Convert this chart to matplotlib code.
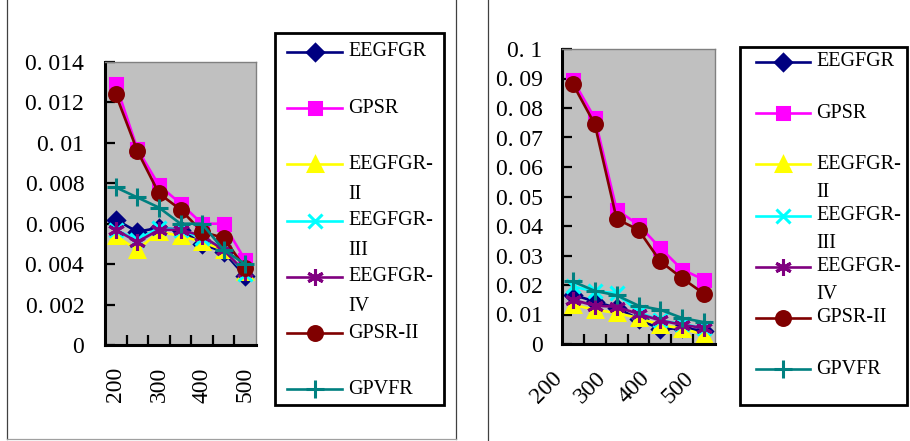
import matplotlib
matplotlib.use("Agg")
import matplotlib.pyplot as plt
import matplotlib.transforms as mtrans
from matplotlib.lines import Line2D
import numpy as np

plt.rcParams['font.family'] = ['Liberation Serif', 'DejaVu Serif']

# categories (x axis) - every other one is labelled
sizes = ['200', '250', '300', '350', '400', '450', '500']

names = ['EEGFGR', 'GPSR', 'EEGFGR-\nII', 'EEGFGR-\nIII', 'EEGFGR-\nIV', 'GPSR-II', 'GPVFR']
colors = ['#000080', '#FF00FF', '#FFFF00', '#00FFFF', '#800080', '#800000', '#008080']
markers = ['D', 's', '^', 'x', (6, 2, 0), 'o', '+']
msizes = [8, 9, 10, 10, 12, 10, 13]

# left chart values
left_eegfgr = [0.0062, 0.0056, 0.0058, 0.0057, 0.0050, 0.0046, 0.0034]
left_gpsr = [0.0129, 0.0097, 0.0079, 0.0070, 0.0060, 0.0060, 0.0042]
left_eegfgr2 = [0.0054, 0.0047, 0.0056, 0.0054, 0.0051, 0.0047, 0.0036]
left_eegfgr3 = [0.0057, 0.0052, 0.0058, 0.0057, 0.0053, 0.0048, 0.0035]
left_eegfgr4 = [0.0057, 0.0051, 0.0057, 0.0057, 0.0054, 0.0047, 0.0036]
left_gpsr2 = [0.0124, 0.0096, 0.0075, 0.0067, 0.0056, 0.0053, 0.0038]
left_gpvfr = [0.0078, 0.0073, 0.0068, 0.0060, 0.0060, 0.0047, 0.0040]

# right chart values
right_eegfgr = [0.0167, 0.0144, 0.0122, 0.0085, 0.0050, 0.0054, 0.0045]
right_gpsr = [0.0895, 0.0765, 0.0455, 0.0404, 0.0325, 0.0252, 0.0218]
right_eegfgr2 = [0.0133, 0.0116, 0.0105, 0.0088, 0.0065, 0.0052, 0.0032]
right_eegfgr3 = [0.0195, 0.0178, 0.0173, 0.0108, 0.0080, 0.0068, 0.0054]
right_eegfgr4 = [0.0150, 0.0130, 0.0126, 0.0102, 0.0080, 0.0065, 0.0054]
right_gpsr2 = [0.0881, 0.0745, 0.0424, 0.0387, 0.0280, 0.0223, 0.0170]
right_gpvfr = [0.0212, 0.0180, 0.0165, 0.0130, 0.0116, 0.0088, 0.0074]

left_series = [left_eegfgr, left_gpsr, left_eegfgr2, left_eegfgr3, left_eegfgr4, left_gpsr2, left_gpvfr]
right_series = [right_eegfgr, right_gpsr, right_eegfgr2, right_eegfgr3, right_eegfgr4, right_gpsr2, right_gpvfr]

W, H = 910, 441
fig = plt.figure(figsize=(W / 100, H / 100), dpi=100)


def px(x, y):
    return x / W, 1 - y / H


def box(x0, y0, x1, y1):
    a = px(x0, y1)
    b = px(x1, y0)
    return [a[0], a[1], b[0] - a[0], b[1] - a[1]]


def draw_chart(rect, series, ymax, ystep, fmt, rot, ypad, xpad, xshift):
    ax = fig.add_axes(rect)
    ax.set_facecolor('#C0C0C0')
    x = np.arange(len(sizes))
    for vals, c, m, ms in zip(series, colors, markers, msizes):
        ax.plot(x, vals, color=c, lw=1.9, marker=m, ms=ms, mfc=c, mec=c, mew=2.2)
    ax.set_xlim(-0.5, len(sizes) - 0.5)
    ax.set_ylim(0, ymax)
    yt = np.arange(0, ymax + ystep / 2, ystep)
    ax.set_yticks(yt)
    ax.set_yticklabels([fmt(v) for v in yt])
    ax.set_xticks(np.arange(0.5, len(sizes) - 0.5, 1))
    ax.set_xticklabels([])
    ax.set_xticks(x[::2], minor=True)
    lab = ax.set_xticklabels(sizes[::2], minor=True, rotation=rot,
                             ha='center' if rot == 90 else 'right', va='top')
    ax.tick_params(axis='both', which='major', direction='in', length=7, width=1.6)
    ax.tick_params(axis='y', labelsize=17, pad=ypad)
    ax.tick_params(axis='x', which='minor', length=0, labelsize=17, pad=xpad)
    if xshift:
        off = mtrans.ScaledTranslation(xshift / 100, 0, fig.dpi_scale_trans)
        for t in lab:
            t.set_transform(t.get_transform() + off)
    for s in ['left', 'bottom']:
        ax.spines[s].set_linewidth(2.2)
        ax.spines[s].set_color('black')
    for s in ['top', 'right']:
        ax.spines[s].set_linewidth(1.0)
        ax.spines[s].set_color('#808080')
    return ax


def fmt_left(v):
    if v == 0:
        return '0'
    s = ('%.3f' % v).rstrip('0')
    return s.replace('.', '. ')


def fmt_right(v):
    if v == 0:
        return '0'
    s = ('%.2f' % v).rstrip('0')
    return s.replace('.', '. ')


draw_chart(box(105, 62, 256, 345), left_series, 0.014, 0.002, fmt_left, 90, 15, 16, 0)
draw_chart(box(562, 49, 715, 344), right_series, 0.1, 0.01, fmt_right, 45, 14, 17, -6)


def legend(x0, y0, x1, y1, first_y, step, line_x0, line_x1, text_x, second):
    b = box(x0, y0, x1, y1)
    fig.add_artist(plt.Rectangle((b[0], b[1]), b[2], b[3], transform=fig.transFigure,
                                 fill=False, ec='black', lw=2.0))
    for i, (n, c, m, ms) in enumerate(zip(names, colors, markers, msizes)):
        yy = first_y + i * step
        a = px(line_x0, yy)
        bb = px(line_x1, yy)
        fig.add_artist(Line2D([a[0], bb[0]], [a[1], a[1]], transform=fig.transFigure,
                              color=c, lw=1.9))
        mid = px((line_x0 + line_x1) / 2, yy)
        fig.add_artist(Line2D([mid[0]], [mid[1]], transform=fig.transFigure, color=c,
                              marker=m, ms=ms, mfc=c, mec=c, mew=2.2, lw=0))
        for k, part in enumerate(n.split('\n')):
            tp = px(text_x, yy + k * second)
            fig.text(tp[0], tp[1], part, fontsize=14.5, va='center', ha='left')


legend(275, 33, 444, 405, 52, 56.2, 287, 342, 348, 30)
legend(740, 47, 907, 405, 62, 51.2, 756, 810, 816, 28)

# panel outlines
for xx in (7, 456, 488):
    a = px(xx, 0)
    b = px(xx, 441 if xx == 488 else 439)
    fig.add_artist(Line2D([a[0], a[0]], [a[1], b[1]], transform=fig.transFigure,
                          color='#404040', lw=0.9))
a = px(7, 439)
b = px(456, 439)
fig.add_artist(Line2D([a[0], b[0]], [a[1], a[1]], transform=fig.transFigure,
                      color='#A0A0A0', lw=0.9))

fig.savefig('out.png', dpi=100)
